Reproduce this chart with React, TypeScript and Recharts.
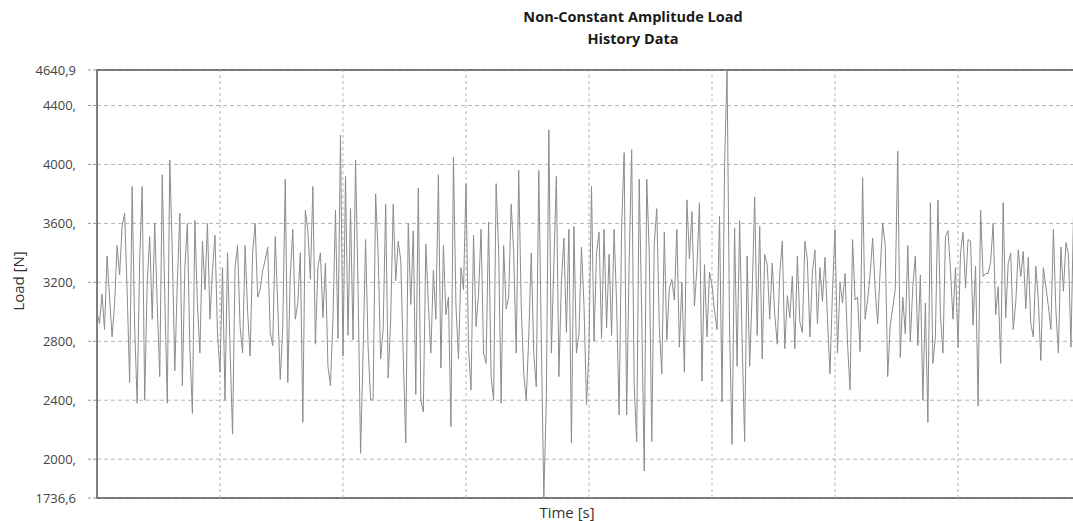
import React from "react";
import { LineChart, Line, XAxis, YAxis, CartesianGrid, ReferenceArea, ReferenceLine } from "recharts";

// load history left to right (one value per sample)
const loadValues: number[] = [
	3000, 2920, 3120, 2880, 3380, 3100, 2830, 3050, 3450, 3250, 3580, 3670, 3150, 2520, 3850, 2900, 2380, 3350, 3850, 2400,
	3200, 3510, 2950, 3600, 3050, 2560, 3930, 3100, 2380, 4030, 3400, 2600, 3200, 3670, 2500, 3300, 3600, 2750, 2310, 3620,
	3050, 2720, 3480, 3150, 3600, 2950, 3280, 3520, 2850, 2590, 3300, 2400, 3400, 2750, 2170, 3300, 3450, 2900, 2720, 3450,
	3000, 2700, 3400, 3600, 3100,
	3150, 3280, 3350, 3440, 2860, 2770, 3510, 3050, 2540, 2900, 3900, 2520, 3250, 3560, 2950, 3060, 3400, 2250, 3690, 3550,
	3220, 3850, 2780, 3300, 3400, 2960, 3330, 2630, 2500, 2950, 3690, 2820, 4200, 2700, 3920, 2840, 3700, 2810, 4030, 3170,
	2040, 2720, 3490, 2760, 2400, 2410, 3800, 3390, 2680, 2880, 3730, 2550, 2950, 3730, 3210, 3480, 3350, 2700, 2110, 3600,
	3050, 3550, 2440, 3840, 2400,
	2320, 3460, 3050, 2720, 3280, 2950, 3930, 2620, 3450, 2980, 3100, 2220, 4050, 3040, 2680, 3300, 3150, 3870, 2760, 2470,
	3520, 2900, 3120, 3560, 2720, 2650, 3610, 2560, 2400, 3870, 3420, 2380, 3450, 3020, 3100, 3730, 3400, 2720, 3960, 3040,
	2580, 2400, 2830, 3400, 2720, 2490, 3960, 2810, 1736.6, 2400, 4235, 2720, 3320, 3920, 2560, 3200, 3500, 2860, 3560, 2110,
	3580, 2720, 2850, 3440, 3050,
	2370, 2750, 3850, 2800, 3400, 3540, 2820, 3560, 2890, 3390, 2840, 3560, 3050, 2300, 3580, 4080, 2300, 3340, 4100, 2500,
	2120, 3900, 2980, 1920, 3900, 3400, 2120, 3460, 3700, 2900, 2580, 3540, 2810, 3160, 3220, 3080, 3560, 2760, 3200, 2590,
	3760, 3360, 3680, 3040, 3300, 3740, 2530, 3320, 2830, 3270, 3180, 3010, 2880, 3650, 2390, 3990, 4640.9, 2870, 2100, 3570,
	2630, 3620, 2800, 2120, 3380,
	2630, 3130, 3780, 2840, 3580, 2680, 3390, 3320, 2950, 3330, 2980, 2780, 3260, 3480, 2750, 3110, 2960, 3240, 2750, 3380,
	2930, 2860, 3480, 3350, 2830, 3270, 3420, 2920, 3300, 3070, 3370, 2950, 2580, 3140, 3560, 2720, 3200, 3060, 3260, 2780,
	2470, 3490, 3080, 3100, 2730, 3910, 2950, 3080, 3260, 3500, 3150, 2920, 3280, 3600, 3450, 2560, 2910, 3030, 3150, 4090,
	2690, 3100, 2850, 3450, 2800,
	3170, 3380, 2770, 3250, 2400, 3060, 2250, 3740, 2650, 2830, 3760, 2980, 2720, 3510, 3550, 3280, 2950, 3300, 2760, 3400,
	3540, 3160, 3490, 3480, 2910, 3310, 2360, 3690, 3240, 3260, 3260, 3340, 3600, 2980, 3170, 2650, 3740, 2960, 3330, 3400,
	2880, 3060, 3420, 3240, 3410, 3020, 3370, 2920, 2830, 3310, 3080, 2670, 3300, 3170, 3040, 2880, 3560, 3010, 2720, 3440,
	3140, 3470, 3390, 2760, 3650, 3180, 2850, 3300,
];

const loadTicks = [1736.6, 2000, 2400, 2800, 3200, 3600, 4000, 4400, 4640.9];
const timeTicks = [0, 49, 98, 147, 196, 245, 294, 343, 392];
const tMax = 392;
const loadMin = 1736.6;
const loadMax = 4640.9;

const data = loadValues.map((load, i) => ({ t: i, load }));

const fmtLoad = (v: number) => {
	if (Number.isInteger(v)) return `${v},`;
	return v.toFixed(1).replace(".", ",");
};

const font = "'Open Sans', 'Noto Sans', sans-serif";

export default function App() {
	return (
		<div style={{ position: "fixed", left: 0, top: 0, width: 1073, height: 521, overflow: "hidden", background: "#fff", fontFamily: font }}>
			<div style={{ position: "absolute", left: 433, width: 400, top: 6, textAlign: "center", fontWeight: 700, fontSize: 14.5, lineHeight: "22px", color: "#1a1a1a" }}>
				Non-Constant Amplitude Load
				<br />
				History Data
			</div>
			<LineChart
				width={1090}
				height={521}
				data={data}
				margin={{ top: 70, right: 9, left: 0, bottom: 22 }}
			>
				<CartesianGrid
					stroke="#b5b5b5"
					strokeDasharray="4 3"
					vertical={false}
				/>
				{timeTicks.slice(1, -1).map((t) => (
					<ReferenceLine
						key={t}
						segment={[
							{ x: t, y: loadMin },
							{ x: t, y: loadMax },
						]}
						stroke="#b5b5b5"
						strokeDasharray="3 3"
					/>
				))}
				<XAxis
					dataKey="t"
					type="number"
					domain={[0, tMax]}
					ticks={timeTicks}
					tick={false}
					axisLine={false}
					tickLine={false}
					height={1}
				/>
				<YAxis
					type="number"
					domain={[loadMin, loadMax]}
					ticks={loadTicks}
					interval={0}
					tickFormatter={fmtLoad}
					width={97}
					axisLine={false}
					tickLine={{ stroke: "#999", strokeDasharray: "3 2" }}
					tickSize={9}
					tickMargin={12}
					tick={{ fill: "#444", fontSize: 13, fontFamily: font }}
				/>
				<Line
					type="linear"
					dataKey="load"
					stroke="#8c8c8c"
					strokeWidth={1}
					dot={false}
					isAnimationActive={false}
				/>
				<ReferenceArea
					x1={0}
					x2={tMax}
					y1={loadMin}
					y2={loadMax}
					fill="none"
					stroke="#555"
					strokeWidth={1.5}
					ifOverflow="visible"
				/>
			</LineChart>
			<div style={{ position: "absolute", left: 18, top: 281, transform: "translate(-50%, -50%) rotate(-90deg)", fontSize: 15, color: "#333", whiteSpace: "nowrap" }}>
				Load [N]
			</div>
			<div style={{ position: "absolute", left: 567, top: 512, transform: "translate(-50%, -50%)", fontSize: 15, color: "#333", whiteSpace: "nowrap" }}>
				Time [s]
			</div>
		</div>
	);
}
